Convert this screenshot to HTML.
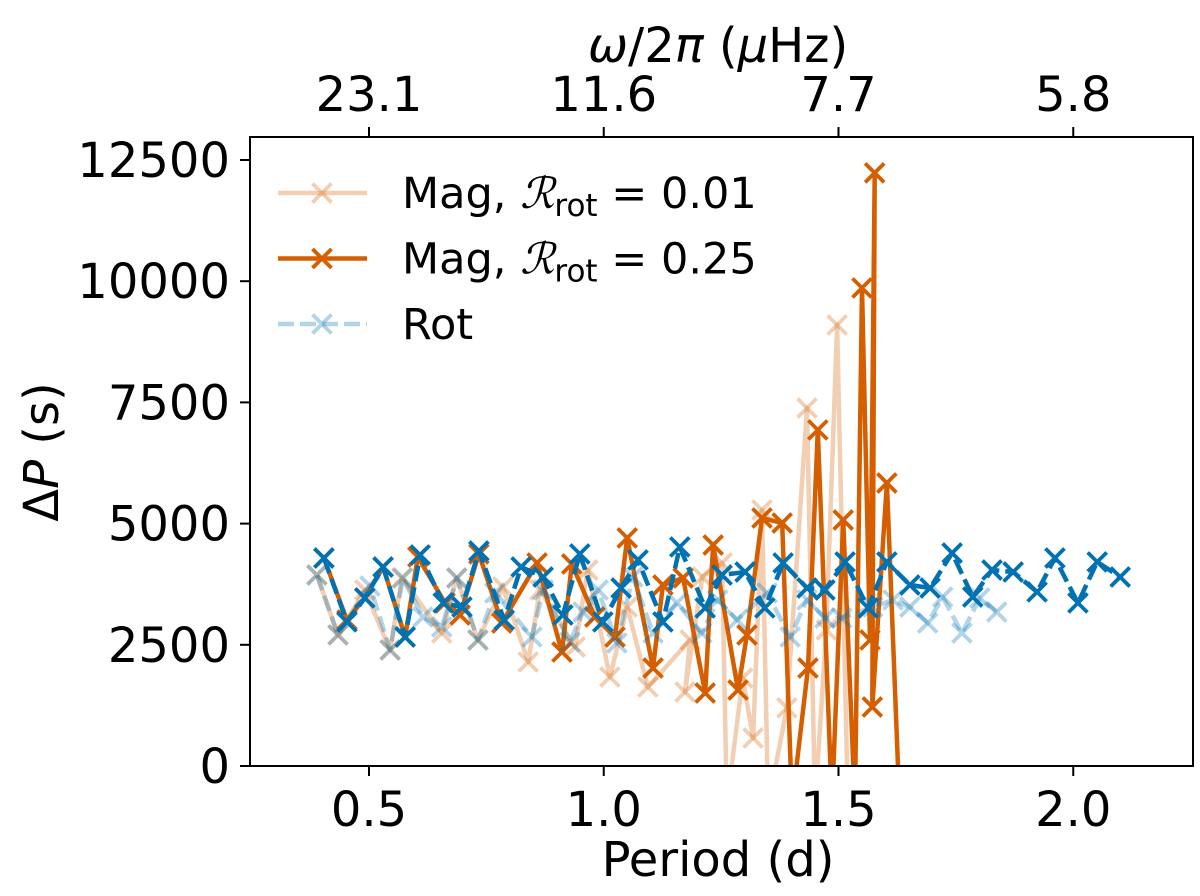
<!DOCTYPE html>
<html><head><meta charset="utf-8"><style>
body{margin:0;background:#fff;}
svg text{font-family:"DejaVu Sans","Liberation Sans",sans-serif;fill:#000;}
</style></head><body>
<svg id="chart" width="1200" height="891" viewBox="0 0 1200 891" xmlns="http://www.w3.org/2000/svg">
<defs><clipPath id="plotclip"><rect x="250" y="137" width="943" height="629"/></clipPath></defs>
<g id="series" clip-path="url(#plotclip)"></g>
<rect x="250" y="137" width="943" height="629" fill="none" stroke="#000" stroke-width="2"/>
<g id="axes"></g>
<text x="718" y="876" text-anchor="middle" font-size="48">Period (d)</text>
<text x="718" y="62" text-anchor="middle" font-size="48"><tspan font-style="italic">ω</tspan>/2<tspan font-style="italic">π</tspan> (<tspan font-style="italic">μ</tspan>Hz)</text>
<text transform="translate(58,452) rotate(-90)" text-anchor="middle" font-size="48">Δ<tspan font-style="italic">P</tspan> (s)</text>
<g id="legend"></g>
</svg>
<script>
const xTicks=[0.5,1.0,1.5,2.0];
const xTickLabels=["0.5","1.0","1.5","2.0"];
const topTickLabels=["23.1","11.6","7.7","5.8"];
const yTicks=[0,2500,5000,7500,10000,12500];
const yTickLabels=["0","2500","5000","7500","10000","12500"];

const rotP=[0.404,0.453,0.491,0.530,0.577,0.609,0.658,0.698,0.734,0.788,0.824,0.871,0.913,0.949,0.998,1.037,1.073,1.126,1.162,1.216,1.252,1.301,1.343,1.382,1.433,1.471,1.514,1.563,1.603,1.652,1.695,1.742,1.786,1.827,1.872,1.923,1.961,2.010,2.051,2.100];
const rotV=[4291,2971,3466,4105,2661,4353,3363,3280,4435,3012,4105,3899,3115,4374,2971,3672,4250,2971,4518,3260,3940,4002,3260,4188,3672,3631,4209,3260,4209,3734,3672,4394,3486,4043,4002,3590,4291,3363,4209,3899];

const rotLP=[0.389,0.434,0.502,0.545,0.572,0.615,0.655,0.687,0.732,0.768,0.847,0.871,0.928,0.956,0.988,1.028,1.062,1.105,1.156,1.209,1.243,1.284,1.348,1.397,1.433,1.471,1.507,1.573,1.616,1.652,1.690,1.722,1.763,1.801,1.837];
const rotLV=[3940,2703,3713,2393,3878,3074,2868,3878,2599,3569,2661,3631,2558,3177,3631,2537,3899,2744,3363,2744,3425,3012,3569,2661,3425,3053,3053,3280,3425,3280,2950,3486,2744,3466,3177];

const mag25P=[0.404,0.453,0.491,0.530,0.577,0.604,0.662,0.694,0.734,0.783,0.858,0.911,0.932,0.981,1.024,1.050,1.105,1.126,1.169,1.216,1.233,1.286,1.305,1.337,1.380,1.401,1.435,1.456,1.486,1.510,1.535,1.550,1.567,1.577,1.572,1.603,1.630];
const mag25V=[4291,3012,3466,4105,2661,4312,3363,3115,4374,2950,4188,2352,4167,3074,2661,4704,2022,3734,3878,1506,4559,1568,2702,5116,5013,-800,2022,6932,-800,5074,-800,9861,2600,12234,1217,5838,-800];

const mag01P=[0.389,0.434,0.491,0.545,0.570,0.655,0.687,0.732,0.785,0.839,0.864,0.939,0.966,1.013,1.050,1.094,1.184,1.173,1.210,1.252,1.262,1.296,1.318,1.337,1.350,1.390,1.433,1.450,1.474,1.497,1.520];
const mag01V=[3940,2703,3631,2393,3878,2744,3878,2599,3693,2146,3631,2455,4043,1836,3280,1630,2600,1527,3900,4188,-800,1815,578,5280,-800,1200,7385,-800,2806,9098,-800];

const X0=369,XS=469.5,Y0=766,YS=0.04848;
function xs(p){return X0+(p-0.5)*XS;}
function ys(v){return Y0-v*YS;}
const NS="http://www.w3.org/2000/svg";
const gS=document.getElementById('series');
const gA=document.getElementById('axes');
const gL=document.getElementById('legend');
function mk(tag,attrs,parent){const e=document.createElementNS(NS,tag);for(const k in attrs)e.setAttribute(k,attrs[k]);parent.appendChild(e);return e;}
function marker(parent,x,y,color,op,name){
  const g=mk('g',{},parent);
  
  
  const s=9.5;
  mk('path',{d:`M${x-s},${y-s}L${x+s},${y+s}M${x-s},${y+s}L${x+s},${y-s}`,stroke:color,'stroke-width':3.8,'stroke-opacity':op,fill:'none'},g);
}
function series(P,V,color,op,dash,name){
  const g=mk('g',{},gS);
  
  
  const pts=P.map((p,i)=>xs(p).toFixed(1)+','+ys(V[i]).toFixed(1)).join(' ');
  const a={points:pts,fill:'none',stroke:color,'stroke-width':4.5,'stroke-opacity':op,'stroke-linejoin':'round'};
  if(dash)a['stroke-dasharray']=dash;
  const pl=mk('polyline',a,g);
  
  
  P.forEach((p,i)=>marker(g,xs(p),ys(V[i]),color,op,name+'-point'));
}
series(mag01P,mag01V,'#d55e00',0.3,null,'mag-001-series');
series(mag25P,mag25V,'#d55e00',1,null,'mag-025-series');
series(rotLP,rotLV,'#0072b2',0.3,'16,6','rot-light-series');
series(rotP,rotV,'#0072b2',1,'16,6','rot-series');

xTicks.forEach((t,i)=>{
  const x=xs(t);
  mk('line',{x1:x,y1:766,x2:x,y2:776,stroke:'#000','stroke-width':2},gA);
  const tx=mk('text',{x:x,y:826,'text-anchor':'middle','font-size':48},gA);
  tx.textContent=xTickLabels[i];
  
  
  mk('line',{x1:x,y1:137,x2:x,y2:127,stroke:'#000','stroke-width':2},gA);
  const tt=mk('text',{x:x,y:111,'text-anchor':'middle','font-size':48},gA);
  tt.textContent=topTickLabels[i];
  
  
});
yTicks.forEach((t,i)=>{
  const y=ys(t);
  mk('line',{x1:240,y1:y,x2:250,y2:y,stroke:'#000','stroke-width':2},gA);
  const tx=mk('text',{x:230,y:y+17,'text-anchor':'end','font-size':48},gA);
  tx.textContent=yTickLabels[i];
  
  
});

const legItems=[['#d55e00',0.3,null,'Mag, ','0.01'],['#d55e00',1,null,'Mag, ','0.25'],['#0072b2',0.3,'16,6','Rot','']];
legItems.forEach((it,i)=>{
  const y=193+i*65.5;
  const g=mk('g',{},gL);
  
  
  const a={x1:278,y1:y,x2:367,y2:y,stroke:it[0],'stroke-width':4.5,'stroke-opacity':it[1]};
  if(it[2])a['stroke-dasharray']=it[2];
  mk('line',a,g);
  marker(g,322,y,it[0],it[1],'legend-marker');
  const t=mk('text',{x:402,y:y+15,'font-size':43},g);
  if(it[4]){
    t.innerHTML='Mag, <tspan font-family="Liberation Serif, serif" font-style="italic">ℛ</tspan><tspan font-size="31" dy="8">rot</tspan><tspan dy="-8"> = '+it[4]+'</tspan>';
  } else t.textContent='Rot';
});
</script>
</body></html>
